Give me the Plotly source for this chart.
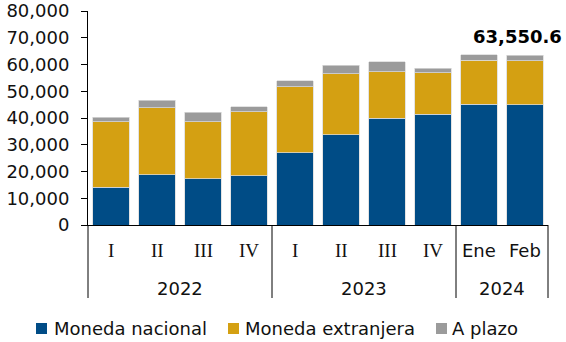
import plotly.graph_objects as go

# Periods and values (millions)
years = ["2022", "2022", "2022", "2022", "2023", "2023", "2023", "2023", "2024", "2024"]
periods = ["I", "II", "III", "IV", "I", "II", "III", "IV", "Ene", "Feb"]
moneda_nacional = [14170, 18820, 17340, 18450, 26940, 33730, 40000, 41330, 45170, 44900]
moneda_extranjera = [24350, 25090, 21290, 23870, 24720, 22870, 17340, 15500, 16450, 16500]
a_plazo = [1850, 2730, 3440, 1850, 2360, 3070, 3690, 1840, 1980, 2150.6]
total_label = "63,550.6"
y_ticks = [0, 10000, 20000, 30000, 40000, 50000, 60000, 70000, 80000]

series = [
    ("Moneda nacional", moneda_nacional, "#004C86"),
    ("Moneda extranjera", moneda_extranjera, "#D4A012"),
    ("A plazo", a_plazo, "#9B9B9B"),
]

cats = [f"{y} {p}" for y, p in zip(years, periods)]
n = len(cats)

FONT = "DejaVu Sans"
SERIF = "Liberation Serif"
TXT = "#111111"
FS = 18

fig = go.Figure()
for name, vals, color in series:
    fig.add_trace(go.Bar(
        x=cats, y=vals, name=name,
        marker=dict(color=color, line=dict(color="#d9d9d9", width=0.75)),
        width=0.8, showlegend=False,
    ))

# plot area in pixels
L, R, T, B = 88, 18, 11, 117
W, H = 566, 342
pw, ph = W - L - R, H - T - B

def py(px_y):
    return (H - B - px_y) / ph

def px(px_x):
    return (px_x - L) / pw

annotations = []
shapes = []

# period labels
for c, p in zip(cats, periods):
    roman = p in ("I", "II", "III", "IV")
    annotations.append(dict(
        x=c, xref="x", y=py(251), yref="paper", text=p, showarrow=False,
        font=dict(family=SERIF if roman else FONT, size=FS + (1 if roman else 0), color=TXT),
        xanchor="center", yanchor="middle",
    ))

# year groups and dividers
groups = []
for i, y in enumerate(years):
    if groups and groups[-1][0] == y:
        groups[-1][2] = i + 1
    else:
        groups.append([y, i, i + 1])
bounds = [0] + [g[2] for g in groups]
for b in bounds:
    shapes.append(dict(type="line", xref="paper", yref="paper",
                       x0=b / n, x1=b / n, y0=0, y1=py(298),
                       line=dict(color="black", width=1)))
for y, s, e in groups:
    annotations.append(dict(
        x=(s + e) / 2 / n, xref="paper", y=py(288), yref="paper", text=y,
        showarrow=False, font=dict(family=FONT, size=FS, color=TXT),
        xanchor="center", yanchor="middle",
    ))

# total label on last bar
last_total = moneda_nacional[-1] + moneda_extranjera[-1] + a_plazo[-1]
annotations.append(dict(
    x=cats[-1], y=last_total, xref="x", yref="y", text=f"<b>{total_label}</b>",
    showarrow=False, yshift=19, xshift=-8, xanchor="center", yanchor="middle",
    font=dict(family=FONT, size=FS, color="black"),
))

# legend
legend_pos = [(36, 52), (228, 243), (436, 450)]
for (name, _, color), (sq, tx) in zip(series, legend_pos):
    shapes.append(dict(type="rect", xref="paper", yref="paper",
                       x0=px(sq), x1=px(sq + 11), y0=py(334), y1=py(323),
                       fillcolor=color, line=dict(width=0)))
    annotations.append(dict(
        x=px(tx), xref="paper", y=py(328), yref="paper", text=name,
        showarrow=False, xanchor="left", yanchor="middle",
        font=dict(family=FONT, size=FS, color=TXT),
    ))

fig.update_layout(
    barmode="stack",
    width=W, height=H,
    margin=dict(l=L, r=R, t=T, b=B, pad=0, autoexpand=False),
    paper_bgcolor="white", plot_bgcolor="white",
    font=dict(family=FONT, size=FS, color=TXT),
    annotations=annotations,
    shapes=shapes,
    xaxis=dict(
        type="category", range=[-0.5, n - 0.5], showticklabels=False,
        showline=True, linecolor="black", linewidth=1, ticks="",
        showgrid=False, zeroline=False, fixedrange=True, automargin=False,
    ),
    yaxis=dict(
        range=[0, y_ticks[-1]], tickmode="array", tickvals=y_ticks,
        ticktext=[f"{v:,}" for v in y_ticks],
        showline=True, linecolor="black", linewidth=1,
        ticks="outside", ticklen=6, tickcolor="black", tickwidth=1,
        ticklabelstandoff=8,
        showgrid=False, zeroline=False, ticklabeloverflow="allow",
        automargin=False,
        tickfont=dict(family=FONT, size=FS, color=TXT),
    ),
)

fig.write_html("out.html")
